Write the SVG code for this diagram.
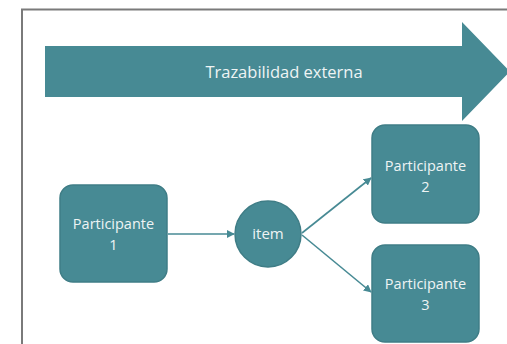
<svg xmlns="http://www.w3.org/2000/svg" width="507" height="344" viewBox="0 0 507 344">
<defs>
<style>
.node{fill:#478a94;stroke:#3f7d86;stroke-width:1.5}
.lbl{font-family:"Open Sans","Liberation Sans",sans-serif;font-size:14.5px;fill:#eef4f4;text-anchor:middle}
.conn{stroke:#478a94;stroke-width:1.6;fill:none;marker-end:url(#ah)}
</style>
<marker id="ah" viewBox="0 0 10 10" refX="9" refY="5" markerWidth="5" markerHeight="5" orient="auto" markerUnits="strokeWidth">
<path d="M0,0 L10,5 L0,10 z" fill="#478a94"/>
</marker>
</defs>
<rect width="507" height="344" fill="#ffffff"/>
<path d="M22,344 V9.5 H507" fill="none" stroke="#7a7a7a" stroke-width="2"/>
<g id="banner">
<polygon points="45,46 462,46 462,22 510,71.5 462,121 462,97 45,97" fill="#478a94"/>
<text class="lbl" x="284" y="78" style="font-size:16.5px">Trazabilidad externa</text>
</g>
<g id="connectors">
<line class="conn" x1="168" y1="234" x2="234" y2="234"/>
<line class="conn" x1="302" y1="233" x2="371" y2="178"/>
<line class="conn" x1="302" y1="235" x2="371" y2="292"/>
</g>
<g id="p1">
<rect class="node" x="60" y="185" width="107" height="97" rx="13"/>
<text class="lbl" x="113.5" y="229">Participante</text>
<text class="lbl" x="113.5" y="250">1</text>
</g>
<g id="item">
<circle class="node" cx="268" cy="234" r="33"/>
<text class="lbl" x="268" y="239" style="font-size:15px">item</text>
</g>
<g id="p2">
<rect class="node" x="372" y="125" width="107" height="98" rx="13"/>
<text class="lbl" x="425.5" y="171">Participante</text>
<text class="lbl" x="425.5" y="192">2</text>
</g>
<g id="p3">
<rect class="node" x="372" y="245" width="107" height="97" rx="13"/>
<text class="lbl" x="425.5" y="289">Participante</text>
<text class="lbl" x="425.5" y="310">3</text>
</g>
</svg>
